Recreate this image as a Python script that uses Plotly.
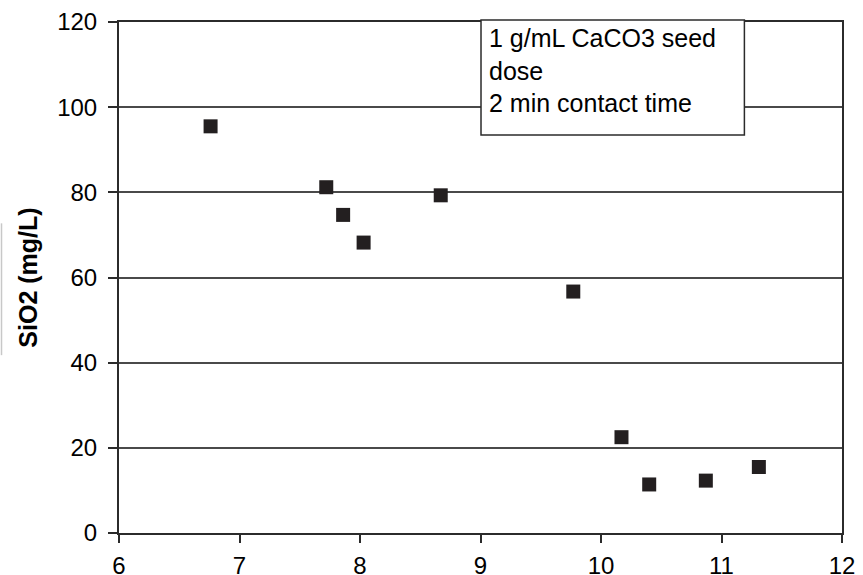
import plotly.graph_objects as go

# Data
ph = [6.76, 7.72, 7.86, 8.03, 8.67, 9.77, 10.17, 10.40, 10.87, 11.31]
sio2 = [95.5, 81.2, 74.7, 68.2, 79.3, 56.7, 22.5, 11.4, 12.3, 15.5]
x_ticks = [6, 7, 8, 9, 10, 11, 12]
y_ticks = [0, 20, 40, 60, 80, 100, 120]
note_lines = ["1 g/mL CaCO3 seed", "dose", "2 min contact time"]
y_title = "SiO2 (mg/L)"

FONT = "Liberation Sans, Arial, sans-serif"

fig = go.Figure()
fig.add_trace(go.Scatter(
    x=ph, y=sio2, mode="markers",
    marker=dict(symbol="square", size=14, color="#231f20",
                line=dict(width=0)),
    showlegend=False, cliponaxis=False,
))

fig.update_layout(
    width=863, height=575,
    margin=dict(l=119, r=21, t=22, b=42),
    paper_bgcolor="white", plot_bgcolor="white",
    font=dict(family=FONT, size=24, color="black"),
    xaxis=dict(
        range=[6, 12], tickvals=x_ticks, ticktext=[str(v) for v in x_ticks],
        showgrid=False, zeroline=False, automargin=False,
        showline=True, linecolor="#2b2b2b", linewidth=2, mirror=True,
        ticks="outside", ticklen=8, tickwidth=1.5, tickcolor="#2b2b2b",
        ticklabelstandoff=2,
        tickfont=dict(size=24, family=FONT),
    ),
    yaxis=dict(
        range=[0, 120], tickvals=y_ticks,
        showgrid=True, gridcolor="#4a4a4a", gridwidth=1.5,
        zeroline=False, automargin=False,
        showline=True, linecolor="#2b2b2b", linewidth=2, mirror=True,
        ticks="outside", ticklen=9, tickwidth=1.5, tickcolor="#2b2b2b",
        ticklabelstandoff=6,
        tickfont=dict(size=24, family=FONT),
        title=dict(text="<b>" + y_title + "</b>", standoff=12,
                   font=dict(size=25, family=FONT)),
    ),
)

# annotation box
fig.add_shape(type="rect", xref="paper", yref="paper",
              x0=0.5007, x1=0.865, y0=0.779, y1=1.004,
              fillcolor="white", line=dict(color="#2b2b2b", width=1.5),
              layer="above")
fig.add_annotation(xref="paper", yref="paper", x=0.509, y=1.0,
                   text="<br>".join(note_lines), showarrow=False,
                   xanchor="left", yanchor="top", align="left",
                   font=dict(size=25, family=FONT, color="black"))

# faint border artifact at left edge
fig.add_shape(type="line", xref="paper", yref="paper",
              x0=-0.1625, x1=-0.1625, y0=0.348, y1=0.606,
              line=dict(color="#c8c8c8", width=1.5))

fig.write_html("out.html")
